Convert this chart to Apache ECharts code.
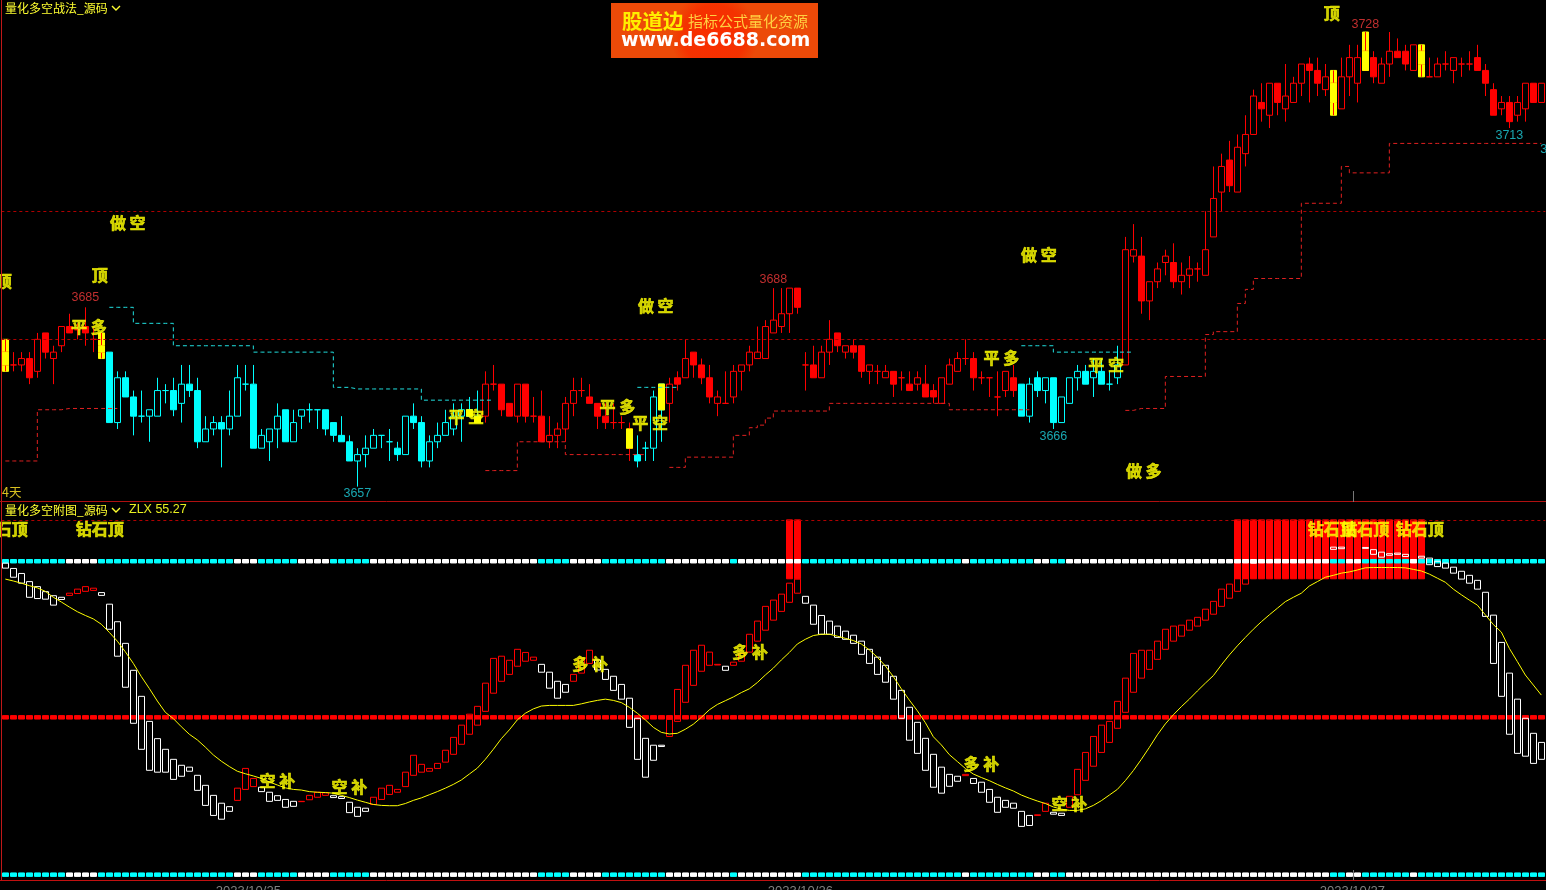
<!DOCTYPE html>
<html><head><meta charset="utf-8">
<style>html,body{margin:0;padding:0;background:#000;overflow:hidden}#c{width:1546px;height:890px}</style>
<script src="https://cdn.jsdelivr.net/npm/echarts@6/dist/echarts.min.js"></script>
</head><body><div id="c"></div>
<script>
const opens=[3676,3676,3676,3677,3675,3681,3677,3679,3682,3681.5,
3682,3680,3679,3678,3667,3674,3671,3668,3668,3668,
3672,3672,3670,3673,3672,3664,3666,3667,3666,3668,
3673,3673,3663,3664,3666,3669,3664,3668,3669,3669,
3669,3667,3665,3664,3661,3662,3663,3665,3664,3663,
3662,3668,3667,3661,3664,3665,3666,3668,3669,3668,
3668,3673,3673,3670,3668,3673,3668,3668,3664,3665,
3666,3670,3672,3671,3670,3668,3667,3667,3666,3662,
3663,3663,3673,3670,3674,3674,3678,3676,3674,3670,
3670,3671,3675,3676,3677,3677,3681,3682,3684,3688,
3676,3676,3674,3678,3681,3678,3679,3679,3675,3675,
3674,3675,3674,3673,3673,3673,3672,3670,3673,3675,
3677,3677,3674,3674,3671,3672,3674,3673,3668,3674,
3672,3674,3667,3670,3674,3675,3674,3675,3673,3674,
3676,3693,3693,3686,3689,3692,3692,3689,3690,3691,
3690,3696,3703,3708,3703,3709,3712,3717,3715,3720,
3716,3717,3720,3723,3722,3719,3717,3716,3721,3720,
3725,3724,3720,3723,3725,3725,3722,3725,3721,3721,
3723,3722,3723,3723,3724,3722,3719,3716,3717,3715,
3716,3720,3717];
const closes=[3678,3676,3677,3674,3680,3678,3678,3682,3681,3681.5,
3681,3680,3678,3667,3674,3671,3668,3668,3669,3672,
3672,3669,3673,3672,3664,3666,3667,3666,3668,3674,
3673,3663,3665,3666,3668,3664,3667,3669,3669,3669,
3666,3665,3664,3661,3662,3663,3665,3665,3664,3662,
3668,3667,3661,3664,3665,3667,3668,3669,3668,3667,
3673,3673,3669,3668,3673,3668,3668,3664,3665,3666,
3670,3672,3672,3670,3668,3667,3667,3667,3663,3661,
3663,3671,3669,3673,3673,3677,3676,3674,3671,3671,
3670,3675,3676,3678,3678,3682,3683,3684,3688,3685,
3676,3674,3678,3680,3679,3679,3678,3675,3676,3675,
3675,3673,3674,3672,3674,3671,3671,3674,3676,3677,
3677,3674,3674,3674,3671,3675,3672,3668,3673,3672,
3674,3667,3671,3674,3675,3673,3675,3673,3673,3676,
3694,3694,3686,3689,3691,3693,3689,3690,3691,3691,
3694,3702,3707,3704,3710,3712,3718,3716,3720,3717,
3718,3720,3723,3722,3720,3721,3720,3721,3724,3724,
3722,3721,3723,3725,3724,3723,3726,3723,3721,3723,
3723,3724,3723,3723,3722,3720,3715,3717,3714,3717,
3720,3717,3720];
const highs=[3680,3678,3678,3678,3681,3681,3679,3682,3684,3682.5,
3685,3682,3681,3678,3675,3675,3672,3672,3669,3674,
3673,3674,3676,3676,3674,3668,3668,3668,3672,3676,
3676,3676,3666,3666,3670,3669,3669,3669,3670,3669,
3669,3667,3668,3665,3663,3665,3666,3665,3666,3664,
3668,3670,3668,3665,3667,3669,3670,3670,3671,3672,
3675,3676,3673,3670,3673,3673,3671,3672,3668,3667,
3671,3674,3674,3673,3670,3670,3670,3668,3667,3665,
3664,3672,3673,3674,3675,3680,3678,3677,3676,3672,
3675,3676,3676,3679,3682,3683,3688,3688,3688,3688,
3678,3679,3679,3683,3681,3679,3680,3679,3676,3676,
3676,3675,3675,3675,3675,3676,3673,3674,3677,3678,
3680,3678,3675,3674,3675,3675,3676,3673,3674,3675,
3674,3674,3671,3674,3676,3676,3677,3677,3675,3679,
3696,3698,3696,3689,3692,3694,3695,3692,3693,3692,
3700,3707,3709,3711,3712,3715,3719,3720,3720,3720,
3723,3721,3723,3724,3724,3723,3722,3724,3726,3726,
3728,3725,3724,3728,3727,3726,3726,3726,3724,3724,
3725,3724,3724,3725,3726,3723,3720,3718,3718,3718,
3720,3720,3720];
const lows=[3675,3675,3675,3673,3674,3677,3673,3678,3681,3680,
3679,3678,3677,3667,3666,3671,3665,3667,3664,3668,
3670,3668,3667,3671,3663,3664,3665,3660,3665,3668,
3672,3663,3663,3661,3663,3664,3664,3666,3667,3666,
3665,3664,3664,3661,3657,3660,3663,3663,3661,3661,
3662,3666,3660,3660,3663,3665,3665,3664,3668,3667,
3667,3672,3668,3668,3667,3667,3667,3664,3663,3663,
3664,3668,3671,3670,3666,3666,3666,3666,3661,3660,
3661,3661,3664,3667,3672,3674,3674,3673,3670,3668,
3670,3670,3672,3675,3677,3677,3681,3681,3681,3684,
3672,3674,3674,3676,3678,3677,3677,3674,3673,3673,
3674,3671,3672,3672,3672,3671,3670,3670,3673,3675,
3676,3672,3673,3671,3668,3671,3671,3668,3667,3671,
3670,3666,3667,3670,3672,3673,3671,3673,3672,3673,
3676,3692,3684,3683,3688,3690,3688,3687,3688,3689,
3690,3696,3700,3703,3703,3707,3712,3714,3713,3715,
3714,3717,3718,3717,3718,3718,3715,3716,3718,3717,
3722,3720,3720,3721,3724,3722,3722,3721,3721,3721,
3722,3720,3721,3722,3722,3718,3715,3715,3713,3714,
3714,3717,3717];
const cyanBars=[[13,59],[79,82],[127,139]];
const yellowBars=[0,12,58,59,78,82,166,170,177];
const yellowTops=[3680,3681,3669,3668,3666,3673,3722,3728,3726];
const yellowBottoms=[3675,3677,3668,3667,3663,3669,3715,3722,3721];
const cyanSteps=[
 [[13,3685],[16,3682.5],[21,3679],[31,3678],[41,3672.5],[43,3672.25],[52,3670.5],[60,3670.5]],
 [[79,3672.5],[83,3672.5]],
 [[127,3679],[131,3678],[140,3678]]];
const redSteps=[
 [[0,3661],[4,3669],[7,3669.2],[13,3669.2]],
 [[60,3659.5],[64,3664],[70,3662],[79,3662]],
 [[83,3660],[85,3661.6],[91,3665],[93,3666.2],[94,3666.6],[95,3667.7],[96,3668.8],[103,3670],[118,3669],[127,3669]],
 [[140,3668.9],[141,3669.2],[145,3674.2],[150,3680.75],[151,3681.2],[154,3685.6],[155,3687.8],[156,3689.5],[162,3701.25],[167,3707],[168,3706],[173,3710.6],[192,3710.6]]];
const priceLevels=[3700,3680];

const lowerOpen=[99.4,97.7,96.1,93.5,91.9,90.3,89.0,88.5,89.1,89.7,
90.4,90.7,90.0,86.3,80.7,73.8,65.2,56.9,48.9,43.4,
40.0,36.8,34.9,34.3,31.7,28.5,25.3,22.8,21.7,23.7,
27.2,28.1,27.9,26.3,25.2,24.0,23.4,23.3,23.9,24.7,
25.3,25.2,24.9,23.1,21.5,21.2,22.4,24.0,25.6,26.3,
28.1,31.7,32.7,33.0,33.9,35.9,38.4,41.6,44.8,47.7,
52.1,57.9,61.7,63.9,66.5,68.1,68.4,67.1,64.6,61.7,
60.7,61.7,64.3,67.4,68.5,65.5,63.3,60.7,56.3,49.9,
43.5,41.3,41.3,44.1,48.9,55.0,60.4,64.9,66.8,66.9,
66.5,66.8,68.1,71.0,74.5,78.0,81.2,84.0,86.9,89.8,
88.8,86.0,82.7,80.9,79.3,77.7,76.4,74.5,71.9,69.4,
66.8,63.3,58.8,53.4,48.6,43.5,38.4,34.3,32.0,31.4,
31.6,30.7,29.5,27.2,24.7,23.7,22.8,20.2,18.9,18.9,
20.2,19.9,19.6,21.5,25.5,30.1,34.6,39.0,42.2,46.7,
51.8,58.2,62.7,65.5,68.7,71.9,74.5,76.1,78.0,79.3,
81.2,83.1,85.6,88.2,90.4,92.7,99.8,100.2,100.1,100.6,
100.3,100.3,100.3,100.3,100.3,100.3,104.5,104.5,100.3,100.3,
104.4,103.7,102.9,102.4,102.6,102.2,100.4,101.6,101.0,100.0,
99.4,98.1,96.8,95.5,93.9,90.1,82.8,74.1,64.3,56.0,
49.9,45.1,42.2];
const lowerClose=[97.8,94.9,93.0,88.5,88.1,87.9,86.0,87.8,89.8,91.1,
91.9,91.4,89.1,78.3,69.7,59.8,48.3,40.0,33.3,32.7,
32.7,30.4,31.4,33.0,26.9,22.1,18.9,17.7,20.2,27.6,
33.9,30.7,26.5,23.4,23.7,21.5,21.8,23.4,25.3,26.3,
26.1,24.6,24.3,19.8,18.6,20.2,24.7,27.6,28.5,27.2,
32.7,38.1,35.2,33.9,35.5,39.7,43.8,47.7,51.2,53.7,
61.1,69.0,69.7,68.4,71.9,70.9,69.4,64.6,59.5,56.3,
58.2,63.9,68.9,71.6,65.3,62.3,58.8,56.0,47.0,36.8,
31.1,36.5,40.9,49.6,59.1,66.8,71.6,73.2,71.0,67.1,
65.2,67.8,70.6,76.7,80.9,85.6,87.6,89.5,93.0,94.3,
86.6,79.9,76.7,76.7,75.7,75.1,73.8,70.3,67.4,63.9,
61.4,56.0,49.9,42.9,38.7,33.3,27.9,26.0,28.2,29.8,
32.0,29.1,26.3,23.1,19.9,21.5,21.2,15.4,15.7,19.1,
22.8,19.3,18.9,25.0,33.6,39.0,44.1,47.7,48.9,55.3,
62.7,70.6,71.6,71.6,74.5,78.3,79.3,79.6,81.2,82.1,
84.7,87.2,91.1,92.7,94.6,94.5,99.4,99.8,99.9,100.2,
99.9,99.9,99.9,99.9,99.9,99.9,103.8,104.0,99.9,99.9,
104.1,102.2,101.3,101.9,102.2,101.5,99.6,101.0,98.9,98.3,
97.8,96.2,94.3,93.0,91.1,82.4,67.4,56.9,44.8,38.7,
37.8,35.5,36.8];
const zlxCurve=[94.3,93.7,93.0,92.2,91.5,90.4,88.5,87.0,85.4,83.9,
82.7,81.6,79.9,77.3,74.5,71.1,67.4,63.2,59.4,55.4,
51.8,49.8,47.2,44.8,43.0,40.7,38.2,36.2,34.5,33.0,
32.2,31.5,30.7,29.6,28.6,27.7,27.2,27.0,26.5,26.3,
26.2,26.0,25.3,24.6,23.8,23.1,22.4,22.1,22.0,22.0,
22.7,23.7,24.5,25.5,26.5,27.6,28.8,30.2,32.1,34.0,
36.8,40.0,43.4,46.2,49.4,51.5,52.9,53.8,54.0,54.0,
54.0,54.0,54.5,55.1,55.6,56.0,55.6,54.9,53.4,51.5,
49.4,47.0,45.4,44.9,45.1,46.4,48.0,50.2,52.6,54.3,
55.5,56.7,58.1,59.3,61.3,63.7,65.9,68.5,70.9,73.6,
75.1,76.3,76.7,76.7,76.1,75.4,74.7,73.6,71.7,69.4,
66.6,63.2,59.3,55.7,52.3,48.5,44.0,41.4,38.3,36.1,
33.9,32.1,31.0,30.0,28.8,27.7,26.7,25.4,24.4,23.5,
22.7,21.6,20.9,20.5,20.5,21.0,22.1,23.6,25.4,27.2,
30.0,33.2,36.8,40.6,44.6,48.1,51.0,53.6,56.0,58.6,
61.1,63.5,66.9,70.1,73.0,75.7,78.3,80.7,82.9,85.0,
87.1,88.5,89.8,92.1,93.5,94.9,95.5,96.2,96.6,97.2,
97.9,98.0,98.0,98.0,98.0,97.9,97.4,96.9,95.9,94.6,
93.3,91.1,89.3,87.6,86.0,82.9,79.8,77.4,72.2,68.0,
63.7,60.5,57.3];
const bandRuns=[['c',8],['w',4],['c',17],['w',3],['c',5],['w',4],['c',5],['w',21],['c',4],['w',4],['c',8],['w',8],['c',1],['w',8],['c',20],['w',1],['c',8],['w',2],['c',2],['w',33],['c',2],['w',2],['c',6],['w',1],['c',16]];
const bandLevels=[100,0];
const midLevel=50.2;
const alertBars=[98,99,154,155,156,157,158,159,160,161,162,163,164,165,166,167,168,169,170,171,172,173,174,175,176,177];
const alertTop=113.2, alertBottom=94.4;
const dayStarts={31:'2023/10/25',100:'2023/10/26',169:'2023/10/27'};

const upperNoteText=['顶','顶','3685','平 多','做 空','3657','平 空','平 多','平 空','做 空','3688','平 多','3666','做 空','平 空','做 多','顶','3728','3713','3'];
const upperNoteBar=[-0.2,11.8,10,10.45,15.3,44,57.6,76.5,80.6,81.3,96,124.5,131,129.2,137.6,142.3,165.8,170,188,192.3];
const upperNotePrice=[3689.1,3690.1,3686.5,3682,3698.2,3655.9,3667.9,3669.5,3667,3685.2,3689.3,3677.1,3664.8,3693.2,3676,3659.5,3731,3729.1,3711.8,3709.6];
const lowerNoteText=['钻石顶','钻石顶','空 补','空 补','多 补','多 补','多 补','空 补','钻石顶','钻石顶','钻石顶'];
const lowerNoteBar=[-0.2,11.8,34,43,73.1,93.1,122,133,165.8,170,176.8];
const lowerNoteValue=[110.3,110.3,29.9,28,67.2,71.1,35.3,22.6,110.3,110.3,110.3];

const N=opens.length;
const RED='#ff0000',CYAN='#00ffff',YEL='#ffff00',WHITE='#ffffff';
const idx=Array.from({length:N},(_,i)=>i);
const isCyan=i=>cyanBars.some(r=>i>=r[0]&&i<=r[1]);
const ohlc=i=>[opens[i],closes[i],lows[i],highs[i]];
const stepData=segs=>{const a=idx.map(()=>null);segs.forEach(s=>s.forEach((p,k)=>{const e=k<s.length-1?s[k+1][0]:p[0]+1;for(let i=p[0];i<e&&i<N;i++)a[i]=p[1];}));return a;};
const bands=[];bandRuns.forEach(r=>{for(let k=0;k<r[1];k++)bands.push(r[0]);});
const candleStyle=(col)=>({color:'transparent',color0:col,borderColor:col,borderColor0:col,borderColorDoji:col,borderWidth:1});
const flat=(col)=>({color:col,color0:col,borderColor:col,borderColor0:col,borderColorDoji:col,borderWidth:1});
const base=(g)=>({type:'candlestick',xAxisIndex:g,yAxisIndex:g,barWidth:6,silent:true,animation:false,large:false,progressive:0});
const blank=['-','-','-','-'];
const series=[];
const levelLine=(vals)=>({symbol:'none',silent:true,animation:false,label:{show:false},lineStyle:{color:'#b00000',width:1,type:[3,3]},data:vals.map(v=>({yAxis:v}))});
// upper pane
series.push({...base(0),z:2,itemStyle:flat(YEL),markLine:levelLine(priceLevels),data:idx.map(i=>{const k=yellowBars.indexOf(i);return k<0?blank:[yellowTops[k],yellowBottoms[k],yellowBottoms[k],yellowTops[k]];})});
series.push({...base(0),z:3,itemStyle:candleStyle(RED),data:idx.map(i=>isCyan(i)?blank:ohlc(i))});
series.push({...base(0),z:3,itemStyle:candleStyle(CYAN),data:idx.map(i=>isCyan(i)?ohlc(i):blank)});
series.push({...base(0),z:4,itemStyle:flat(YEL),data:idx.map(i=>yellowBars.includes(i)?[opens[i],closes[i],Math.min(opens[i],closes[i]),Math.max(opens[i],closes[i])]:blank)});
series.push({type:'line',xAxisIndex:0,yAxisIndex:0,step:'end',showSymbol:false,silent:true,animation:false,z:5,connectNulls:false,lineStyle:{color:'#e02020',width:1,type:[4,3]},data:stepData(redSteps)});
series.push({type:'line',xAxisIndex:0,yAxisIndex:0,step:'end',showSymbol:false,silent:true,animation:false,z:5,connectNulls:false,lineStyle:{color:'#20e0e0',width:1,type:[4,3]},data:stepData(cyanSteps)});
const NUM=/^[0-9]+$/;
const noteSeries=(g,texts,xs,ys)=>({type:'scatter',xAxisIndex:g+2,yAxisIndex:g,symbolSize:0,silent:true,animation:false,clip:false,z:20,
 data:texts.map((t,i)=>{
  const num=NUM.test(t);
  const low=num&&(ys[i]===3655.9||ys[i]===3664.8||ys[i]===3711.8||ys[i]===3709.6);
  return {value:[xs[i],ys[i]],label:{show:true,position:'inside',formatter:t,color:num?(low?'#1fd0dc':'#f03a3a'):YEL,fontSize:num?12.5:16,fontWeight:num?'normal':'bold',fontFamily:num?'Liberation Sans':'"Noto Sans CJK SC"',textBorderColor:num?'transparent':YEL,textBorderWidth:num?0:0.6}};
 })});
series.push(noteSeries(0,upperNoteText,upperNoteBar,upperNotePrice));
// lower pane
series.push({...base(1),z:2,itemStyle:flat(RED),markLine:levelLine([alertTop]),data:idx.map(i=>alertBars.includes(i)?[alertTop,alertBottom,alertBottom,alertTop]:blank)});
bandLevels.forEach(v=>series.push({...base(1),z:3,data:idx.map(i=>{const col=bands[i]==='c'?CYAN:WHITE;return {value:[v+0.55,v-0.55,v-0.55,v+0.55],itemStyle:flat(col)};})}));
series.push({...base(1),z:3,itemStyle:flat(RED),data:idx.map(()=>[midLevel+0.55,midLevel-0.55,midLevel-0.55,midLevel+0.55])});
series.push({...base(1),z:4,itemStyle:{color:'transparent',color0:'transparent',borderColor:RED,borderColor0:WHITE,borderColorDoji:WHITE,borderWidth:1},
 data:idx.map(i=>[lowerOpen[i],lowerClose[i],Math.min(lowerOpen[i],lowerClose[i]),Math.max(lowerOpen[i],lowerClose[i])])});
series.push({type:'line',xAxisIndex:1,yAxisIndex:1,showSymbol:false,silent:true,animation:false,z:6,lineStyle:{color:YEL,width:1},data:zlxCurve});
series.push(noteSeries(1,lowerNoteText,lowerNoteBar,lowerNoteValue));

const txt=(text,x,y,fill,font,extra)=>({type:'text',silent:true,z:30,style:Object.assign({text,x,y,fill,font,textVerticalAlign:'middle'},extra||{})});
const ln=(x1,y1,x2,y2,col)=>({type:'line',silent:true,z:29,shape:{x1,y1,x2,y2},style:{stroke:col,lineWidth:1}});
const chev=(x,y,col)=>({type:'polyline',silent:true,z:30,shape:{points:[[x,y],[x+4,y+4],[x+8,y]]},style:{stroke:col,lineWidth:1.4,fill:null}});
const TITLE='#ffff30';
const graphic=[
 ln(1.5,0,1.5,880,'#c01818'),ln(0,501.5,1546,501.5,'#b01010'),ln(0,880.5,1546,880.5,'#c01010'),
 ln(1353.5,491,1353.5,502,'#777'),ln(1353.5,870,1353.5,880,'#777'),
 txt('量化多空战法_源码',5,8,TITLE,'12px "Noto Sans CJK SC"'),chev(112,6,TITLE),
 txt('量化多空附图_源码',5,510,TITLE,'12px "Noto Sans CJK SC"'),chev(112,508,TITLE),
 txt('ZLX 55.27',129,510,'#e8f020','12.5px "Liberation Sans"'),
 txt('4天',2,492,'#d8c020','12.5px "Noto Sans CJK SC"'),
 {type:'rect',silent:true,z:28,shape:{x:611,y:3,width:207,height:55},style:{fill:new echarts.graphic.RadialGradient(0.5,0.6,0.8,[{offset:0,color:'#fa2c00'},{offset:0.7,color:'#f43200'},{offset:1,color:'#ec4a08'}])}},
 txt('股道边',622,21,'#ffee00','bold 20.5px "Noto Sans CJK SC"'),
 txt('指标公式量化资源',688,21,'#ffd040','15px "Noto Sans CJK SC"'),
 txt('www.de6688.com',621,41,'#ffffff','bold 19px "DejaVu Sans"')
];

const hiddenCat=(g,show)=>({type:'category',gridIndex:g,data:idx.map(String),boundaryGap:true,
 axisLine:{show:false},axisTick:{show:false},splitLine:{show:false},
 axisLabel:show?{show:true,color:'#808080',fontSize:13,fontFamily:'Liberation Sans',margin:5,padding:[0,10,0,0],
   interval:(i)=>dayStarts[i]!==undefined,formatter:(v,i)=>dayStarts[i]||''}:{show:false}});
const hiddenVal=(g)=>({type:'value',gridIndex:g,show:false,min:-0.5,max:192.5,splitLine:{show:false}});

const chart=echarts.init(document.getElementById('c'),null,{renderer:'canvas'});
chart.setOption({
 backgroundColor:'#000',animation:false,
 grid:[{left:1.33,width:1544,top:0,height:501,outerBoundsMode:'none'},{left:1.33,width:1544,top:502,height:378,outerBoundsMode:'none'}],
 xAxis:[hiddenCat(0,false),hiddenCat(1,true),hiddenVal(0),hiddenVal(1)],
 yAxis:[{type:'value',gridIndex:0,show:false,min:3654.75,max:3733,splitLine:{show:false}},
        {type:'value',gridIndex:1,show:false,min:-1.7,max:118.9,splitLine:{show:false}}],
 series,graphic
});
</script></body></html>
